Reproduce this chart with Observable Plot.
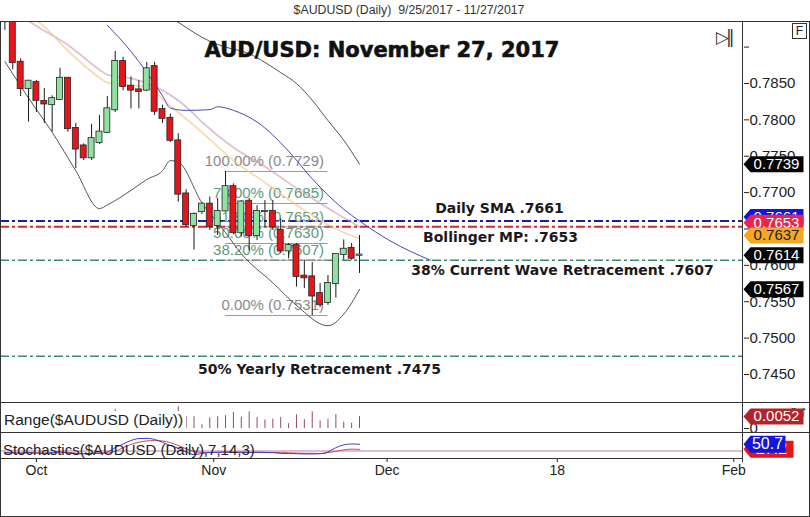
<!DOCTYPE html>
<html><head><meta charset="utf-8">
<script src="https://cdn.jsdelivr.net/npm/d3@7"></script>
<script src="https://cdn.jsdelivr.net/npm/@observablehq/plot@0.6"></script>
<style>
html,body{margin:0;padding:0;background:#fff;}
#wrap{position:relative;width:810px;height:517px;overflow:hidden;font-family:"Liberation Sans",Arial,sans-serif;color:#222;}
.abs{position:absolute;}
.ln{position:absolute;background:#333;}
svg{overflow:visible;}
</style></head><body><div id="wrap"></div>
<script>
// ---------- data ----------
const open  = [0.7950,0.7934,0.7879,0.7843,0.7851,0.7825,0.7821,0.7828,0.7857,0.7788,
               0.7764,0.7748,0.7769,0.7783,0.7814,0.7880,0.7846,0.7841,0.7841,0.7873,
               0.7814,0.7802,0.7771,0.7698,0.7655,0.7674,0.7684,0.7655,0.7675,0.7708,
               0.7645,0.7688,0.7641,0.7674,0.7674,0.7648,0.7620,0.7627,0.7585,0.7584,
               0.7561,0.7549,0.7575,0.7615,0.7623,0.7614];
const high  = [0.7960,0.7940,0.7884,0.7854,0.7854,0.7843,0.7833,0.7871,0.7858,0.7795,
               0.7767,0.7794,0.7806,0.7832,0.7894,0.7886,0.7859,0.7854,0.7879,0.7879,
               0.7820,0.7808,0.7781,0.7704,0.7672,0.7686,0.7694,0.7692,0.7729,0.7712,
               0.7689,0.7692,0.7682,0.7689,0.7689,0.7664,0.7630,0.7630,0.7607,0.7604,
               0.7575,0.7586,0.7616,0.7635,0.7630,0.7641];
const low   = [0.7923,0.7869,0.7832,0.7797,0.7810,0.7795,0.7783,0.7827,0.7783,0.7733,
               0.7744,0.7744,0.7766,0.7781,0.7810,0.7840,0.7815,0.7815,0.7839,0.7806,
               0.7795,0.7769,0.7687,0.7652,0.7621,0.7670,0.7648,0.7641,0.7673,0.7642,
               0.7639,0.7620,0.7634,0.7652,0.7648,0.7616,0.7609,0.7570,0.7568,0.7531,
               0.7542,0.7545,0.7555,0.7607,0.7607,0.7589];
const close = [0.7935,0.7879,0.7843,0.7853,0.7827,0.7822,0.7829,0.7857,0.7788,0.7760,
               0.7748,0.7774,0.7783,0.7815,0.7880,0.7846,0.7841,0.7839,0.7870,0.7812,
               0.7802,0.7772,0.7698,0.7656,0.7670,0.7684,0.7653,0.7674,0.7708,0.7645,
               0.7687,0.7641,0.7674,0.7674,0.7653,0.7620,0.7627,0.7585,0.7583,0.7558,
               0.7546,0.7575,0.7615,0.7622,0.7610,0.7614];

const upperBandBar = [21,22,23,24,26,28,31,33,35,37,39,41,43,45];
const upperBand    = [0.7939,0.7934,0.7927,0.7920,0.7908,0.7900,0.7891,0.7879,0.7865,0.7850,0.7827,0.7799,0.7772,0.7739];
const lowerBandBar = [0,3,6,9,12,13,16,18,20,21,22,25,28,30,34,37,41,43,45];
const lowerBand    = [0.7880,0.7830,0.7783,0.7730,0.7678,0.7683,0.7703,0.7718,0.7730,0.7744,0.7742,0.7686,0.7645,0.7616,0.7576,0.7545,0.7517,0.7533,0.7567];
const midBandBar   = [3,4,8,12,13,16,19,23,25,29,33,37,42,45];
const midBand      = [0.7936,0.7929,0.7903,0.7869,0.7862,0.7857,0.7846,0.7818,0.7797,0.7762,0.7736,0.7706,0.7672,0.7653];
const emaBar       = [4,5,8,12,13,18,21,25,29,33,37,42,45];
const ema          = [0.7937,0.7928,0.7895,0.7858,0.7851,0.7845,0.7819,0.7783,0.7744,0.7714,0.7683,0.7650,0.7637];
const smaBar       = [13,16,20,21,23,26,27,29,32,36,39,43,45,49,54];
const sma          = [0.7930,0.7894,0.7833,0.7816,0.7813,0.7814,0.7818,0.7813,0.7797,0.7757,0.7719,0.7677,0.7661,0.7633,0.7607];

const fibLabels = ["100.00% (0.7729)","78.00% (0.7685)","61.80% (0.7653)","50.00% (0.7630)","38.20% (0.7607)","0.00% (0.7531)"];
const fibPrices = [0.7729,0.7685,0.7653,0.7630,0.7607,0.7531];
const fibFromBar = 28, fibToBar = 41;

const levelPrices = [0.7661,0.7653,0.7607,0.7475];
const levelTexts  = ["Daily SMA .7661","Bollinger MP: .7653","38% Current Wave Retracement .7607","50% Yearly Retracement .7475"];

const tagValues = [0.7739,0.7661,0.7653,0.7637,0.7614,0.7567];

const stochK = [12,11,9,13,10,9,12,16,10,7, 6,10,9,15,35,52,68,77,78,73, 60,45,32,15,3,8,13,14,15,13, 14,13,14,13,12,9,8,7,6,6, 7,15,35,48,52,50.7];
const stochD = [11,11,10,11,11,10,10,12,12,10, 8,8,9,10,18,35,50,60,66,68, 66,58,45,30,18,13,12,13,14,14, 14,13,13,13,13,12,11,10,9,9, 8,12,18,25,28,27.2];
const stochLevel = 20;

const priceTicks = [0.7900,0.7850,0.7800,0.7750,0.7700,0.7650,0.7600,0.7550,0.7500,0.7450];
const monthTickBars = [4.0,26.5,48.5,70.1,92.5];
const monthTickLabels = ["Oct","Nov","Dec","18","Feb"];

const title = "AUD/USD: November 27, 2017";
const header = "$AUDUSD (Daily)  9/25/2017 - 11/27/2017";

// ---------- layout ----------
const W = 810, AXIS_X = 743, RIGHT = W - AXIS_X;
const barPx = 7.88, firstBarPx = 4.4;
const xDomain = [-firstBarPx / barPx, (AXIS_X - firstBarPx) / barPx];
const FONT = '"Liberation Sans", Arial, sans-serif';
const BOLD = '"DejaVu Sans", sans-serif';
const RED = "#e8141c", GREEN = "#90e2a0";

const bars = open.map((o, i) => ({i, o, h: high[i], l: low[i], c: close[i]}));
const pts = (xs, ys) => xs.map((x, k) => ({i: x, p: ys[k]}));

function tagSymbol(w, h) {
  return {draw(ctx) {
    const l = -w / 2, r = w / 2, n = l + 7, t = -h / 2, b = h / 2;
    ctx.moveTo(l, 0); ctx.lineTo(n, t); ctx.lineTo(r, t); ctx.lineTo(r, b); ctx.lineTo(n, b); ctx.closePath();
  }};
}
function tag(v, label, fill, textFill, {w = 60, h = 16, fs = 15, dy = 0} = {}) {
  return [
    Plot.dot([v], {x: () => xDomain[1], y: d => d, symbol: tagSymbol(w, h), fill, stroke: "none", dx: w / 2, dy, r: 5}),
    Plot.text([v], {x: () => xDomain[1], y: d => d, text: () => label, fill: textFill, dx: w / 2 + 3, dy, fontSize: fs, fontFamily: FONT})
  ];
}
const baseStyle = {fontFamily: FONT, fontSize: "15px", background: "transparent", color: "#222", overflow: "visible"};

const wrap = document.getElementById("wrap");
function place(el, top, left = 0) {
  const d = document.createElement("div");
  d.className = "abs"; d.style.top = top + "px"; d.style.left = left + "px";
  d.appendChild(el); wrap.appendChild(d); return d;
}
function line(l, t, w, h) {
  const d = document.createElement("div");
  d.className = "ln"; Object.assign(d.style, {left: l + "px", top: t + "px", width: w + "px", height: h + "px"});
  wrap.appendChild(d);
}

// header
const hd = document.createElement("div");
hd.textContent = header;
Object.assign(hd.style, {width: W + "px", textAlign: "center", fontSize: "12.3px", color: "#333", lineHeight: "20px", whiteSpace: "pre"});
place(hd, 0, 4);

// ---------- main price panel ----------
const fmt4 = d3.format(".4f");
const levelColors = ["#1c1ca8", "#d42a2a", "#3d8a6e", "#3d8a6e"];
const main = Plot.plot({
  width: W, height: 380, marginLeft: 0, marginRight: RIGHT, marginTop: 0, marginBottom: 0,
  x: {domain: xDomain, axis: null},
  y: {domain: [0.74115, 0.79338], axis: null},
  color: {type: "identity"},
  style: baseStyle,
  marks: [
    ...levelPrices.map((v, k) => Plot.ruleY([v], {stroke: levelColors[k], strokeWidth: k < 2 ? 2 : 1.6, strokeDasharray: "9,3,3,3"})),
    Plot.ruleY(fibPrices, {y: d => d, x1: () => fibFromBar, x2: () => fibToBar, stroke: "#9a9a9a", strokeWidth: 1}),
    Plot.text(fibPrices, {y: d => d, x: () => fibToBar, text: (d, k) => fibLabels[k], textAnchor: "end", dx: -4, dy: -10,
      fill: (d, k) => (k === 0 || k === fibPrices.length - 1) ? "#8a8a8a" : "#5f9a7c", fontSize: 15, fontFamily: FONT}),
    Plot.line(pts(upperBandBar, upperBand), {x: "i", y: "p", stroke: "#555", strokeWidth: 1, curve: "monotone-x", clip: true}),
    Plot.line(pts(lowerBandBar, lowerBand), {x: "i", y: "p", stroke: "#555", strokeWidth: 1, curve: "monotone-x", clip: true}),
    Plot.line(pts(midBandBar, midBand), {x: "i", y: "p", stroke: "#c79bb3", strokeWidth: 1.8, strokeOpacity: 0.6, curve: "monotone-x", clip: true}),
    Plot.line(pts(emaBar, ema), {x: "i", y: "p", stroke: "#f2c88a", strokeWidth: 1.8, strokeOpacity: 0.65, curve: "monotone-x", clip: true}),
    Plot.line(pts(smaBar, sma), {x: "i", y: "p", stroke: "#4848b8", strokeWidth: 1, curve: "monotone-x", clip: true}),
    Plot.ruleX(bars, {x: "i", y1: "l", y2: "h", stroke: "#1a1a1a", strokeWidth: 1, clip: true}),
    Plot.rect(bars, {x1: d => d.i - 0.38, x2: d => d.i + 0.38, y1: "o", y2: "c",
      fill: d => d.c > d.o ? GREEN : d.c < d.o ? RED : "#ffffff", stroke: "#222", strokeWidth: 0.8,
      insetTop: -0.6, insetBottom: -0.6, clip: true}),
    Plot.text([levelTexts[0]], {y: () => levelPrices[0], frameAnchor: "left", dx: 499, dy: -12, textAnchor: "middle", fontSize: 14, fontWeight: "bold", fontFamily: BOLD, fill: "#1a1a1a"}),
    Plot.text([levelTexts[1]], {y: () => levelPrices[1], frameAnchor: "left", dx: 500, dy: 10.5, textAnchor: "middle", fontSize: 14, fontWeight: "bold", fontFamily: BOLD, fill: "#1a1a1a"}),
    Plot.text([levelTexts[2]], {y: () => levelPrices[2], frameAnchor: "left", dx: 562, dy: 10.5, textAnchor: "middle", fontSize: 14, fontWeight: "bold", fontFamily: BOLD, fill: "#1a1a1a"}),
    Plot.text([levelTexts[3]], {y: () => levelPrices[3], frameAnchor: "left", dx: 319, dy: 13, textAnchor: "middle", fontSize: 14, fontWeight: "bold", fontFamily: BOLD, fill: "#1a1a1a"}),
    Plot.text([title], {frameAnchor: "top", lineAnchor: "middle", dx: 10, dy: 28, fontSize: 21, fontWeight: "bold", fontFamily: BOLD, fill: "#111", stroke: "#111", strokeWidth: 0.6}),
    Plot.axisY(priceTicks, {anchor: "right", tickSize: 5, tickPadding: 1, fontSize: 15, tickFormat: d => d >= 0.7899 ? "" : fmt4(d), stroke: "#222", fill: "#222"}),
    ...tag(tagValues[0], fmt4(tagValues[0]), "#050505", "#fff"),
    ...tag(tagValues[1], fmt4(tagValues[1]), "#1414dc", "#fff", {dy: -4}),
    ...tag(tagValues[2], fmt4(tagValues[2]), "#e8254c", "#fff", {dy: -4}),
    ...tag(tagValues[3], fmt4(tagValues[3]), "#f5a623", "#222", {dy: -3}),
    ...tag(tagValues[4], fmt4(tagValues[4]), "#050505", "#fff"),
    ...tag(tagValues[5], fmt4(tagValues[5]), "#050505", "#fff")
  ]
});
place(main, 22);

// ---------- range panel ----------
const ranges = bars.map(d => ({i: d.i, r: +(d.h - d.l).toFixed(4)}));
const lastRange = ranges[ranges.length - 1].r;
const rangePlot = Plot.plot({
  width: W, height: 30, marginLeft: 0, marginRight: RIGHT, marginTop: 0, marginBottom: 0,
  x: {domain: xDomain, axis: null},
  y: {domain: [-0.0017, 0.0113], axis: null},
  style: baseStyle,
  marks: [
    Plot.ruleX(ranges, {x: "i", y1: 0, y2: "r", stroke: "#9a4a5a", strokeWidth: 1}),
    Plot.axisY([0], {anchor: "right", tickSize: 5, tickPadding: 1, fontSize: 15, tickFormat: d => String(d)}),
    ...tag(lastRange, fmt4(lastRange), "#b3242a", "#fff")
  ]
});
place(rangePlot, 402);
const rl = document.createElement("div");
rl.textContent = "Range($AUDUSD (Daily))";
Object.assign(rl.style, {fontSize: "15.5px", background: "#fff", padding: "0 3px 0 3px", lineHeight: "18px", whiteSpace: "nowrap"});
place(rl, 411, 1);

// ---------- stochastics panel ----------
const stochPlot = Plot.plot({
  width: W, height: 85, marginLeft: 0, marginRight: RIGHT, marginTop: 0, marginBottom: 59,
  x: {domain: xDomain},
  y: {domain: [-15, 105], axis: null},
  style: baseStyle,
  marks: [
    Plot.ruleY([stochLevel], {stroke: "#d6a6c6", strokeWidth: 1.5}),
    Plot.line(stochD.map((v, i) => ({i, v})), {x: "i", y: "v", stroke: "#d04848", strokeWidth: 1, curve: "monotone-x"}),
    Plot.line(stochK.map((v, i) => ({i, v})), {x: "i", y: "v", stroke: "#3c3cc8", strokeWidth: 1, curve: "monotone-x"}),
    Plot.axisX(monthTickBars, {anchor: "bottom", tickSize: 4, tickPadding: 3, fontSize: 14,
      tickFormat: d => monthTickLabels[monthTickBars.indexOf(d)], label: null}),
    ...tag(stochD[stochD.length - 1], stochD[stochD.length - 1].toFixed(1), "#e01818", "#fff", {w: 50, h: 17, fs: 16}),
    ...tag(stochK[stochK.length - 1], stochK[stochK.length - 1].toFixed(1), "#1414dc", "#fff", {w: 42, h: 17, fs: 16})
  ]
});
place(stochPlot, 432);
const sl = document.createElement("div");
sl.textContent = "Stochastics($AUDUSD (Daily),7,14,3)";
Object.assign(sl.style, {fontSize: "15px", lineHeight: "18px", whiteSpace: "nowrap"});
place(sl, 441, 3);

// ---------- frame lines & widgets ----------
line(0, 21, W, 1);          // under header
line(0, 21, 1, 496);        // left
line(W - 1, 21, 1, 496);    // right
line(0, 516, W, 1);         // bottom
line(0, 402, W, 1);         // main / range
line(0, 432, W, 1);         // range / stoch
line(0, 458, AXIS_X, 1);    // stoch bottom
line(AXIS_X - 1, 22, 1, 440); // value axis

const fb = document.createElement("div");
fb.textContent = "F";
Object.assign(fb.style, {width: "13px", height: "14px", border: "1px solid #333", fontSize: "12px", textAlign: "center", lineHeight: "14px", background: "#fff"});
place(fb, 23, 792);
const ic = document.createElement("div");
ic.textContent = "\u25B7\u2016";
Object.assign(ic.style, {fontSize: "17px", fontFamily: '"DejaVu Sans", sans-serif', color: "#333", letterSpacing: "-3px", lineHeight: "18px"});
place(ic, 28, 716);
</script></body></html>
